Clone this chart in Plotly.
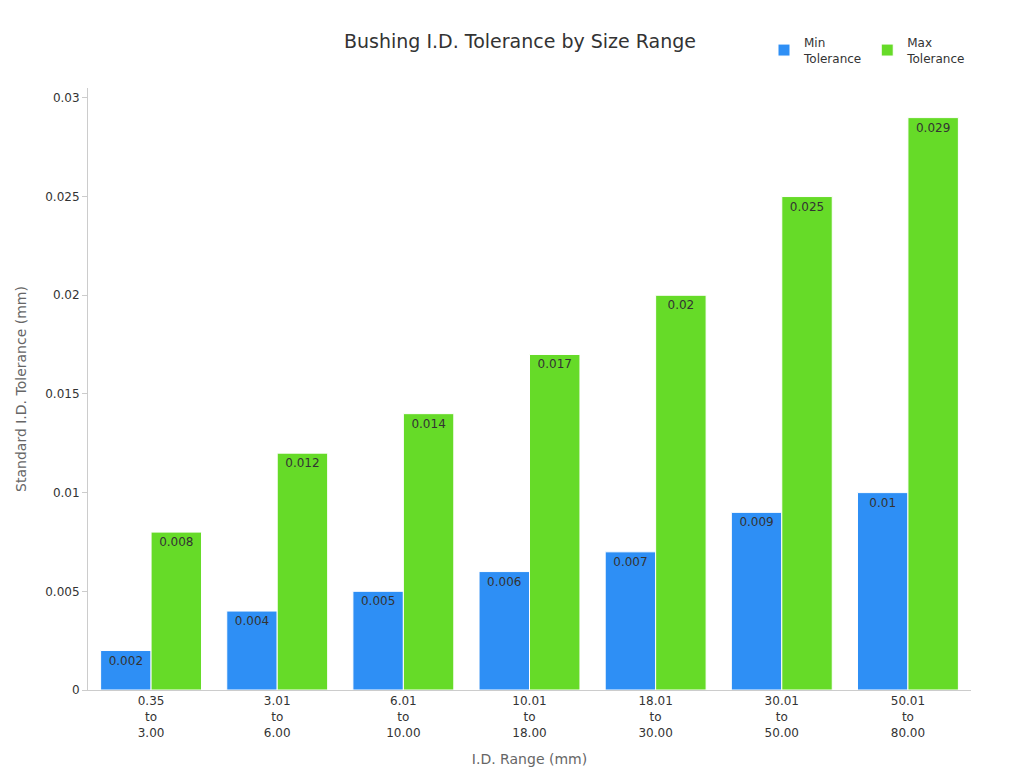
import plotly.graph_objects as go

categories = ["0.35<br>to<br>3.00", "3.01<br>to<br>6.00", "6.01<br>to<br>10.00",
              "10.01<br>to<br>18.00", "18.01<br>to<br>30.00", "30.01<br>to<br>50.00",
              "50.01<br>to<br>80.00"]
min_tol = [0.002, 0.004, 0.005, 0.006, 0.007, 0.009, 0.01]
max_tol = [0.008, 0.012, 0.014, 0.017, 0.02, 0.025, 0.029]

fig = go.Figure()
for name, vals, color in [("Min<br>Tolerance", min_tol, "#2e8ff5"),
                          ("Max<br>Tolerance", max_tol, "#66db28")]:
    fig.add_trace(go.Bar(
        x=categories, y=vals, name=name,
        marker=dict(color=color, line=dict(color="white", width=1)),
        text=[str(v) for v in vals], textposition="inside",
        insidetextanchor="end", textfont=dict(color="#333", size=12),
    ))

fig.update_layout(
    width=1024, height=768,
    font=dict(family="DejaVu Sans", color="#333"),
    title=dict(text="Bushing I.D. Tolerance by Size Range", x=0.5, y=0.957,
               xanchor="center", yanchor="middle", font=dict(size=19, color="#333")),
    plot_bgcolor="white", paper_bgcolor="white",
    barmode="group", bargap=0.2, bargroupgap=0,
    margin=dict(l=75, r=61, t=80, b=82),
    legend=dict(orientation="h", x=1.0, y=1.025, xanchor="right", yanchor="bottom",
                font=dict(size=12)),
    xaxis=dict(title=dict(text="I.D. Range (mm)", font=dict(size=14, color="#666")),
               showline=True, linecolor="#ccc", tickfont=dict(size=12), ticks=""),
    yaxis=dict(title=dict(text="Standard I.D. Tolerance (mm)", font=dict(size=14, color="#666")),
               showline=True, linecolor="#ccc", showgrid=False, zeroline=False,
               range=[0, 0.0305], dtick=0.005, ticks="outside", ticklen=5,
               tickcolor="#ccc", tickfont=dict(size=12)),
    uniformtext=dict(mode="show", minsize=12),
)

fig.write_html("out.html")
